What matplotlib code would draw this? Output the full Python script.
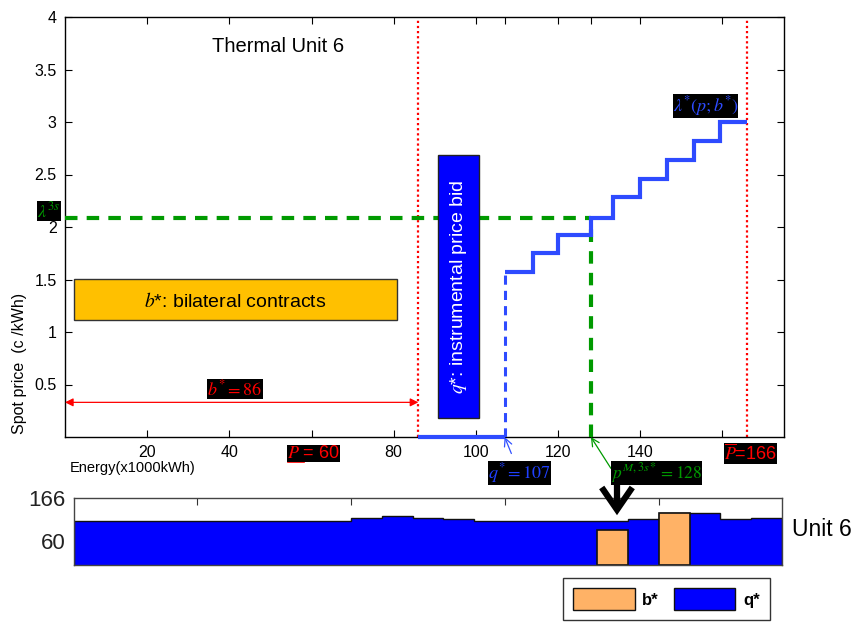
import matplotlib
matplotlib.use('Agg')
import matplotlib.pyplot as plt
from matplotlib.patches import Rectangle, Patch, FancyArrowPatch

plt.rcParams['font.family'] = ['Liberation Sans', 'DejaVu Sans']
plt.rcParams['mathtext.fontset'] = 'stix'

# ---- Offer curve of thermal unit 6 ----
p_min = 60
p_max = 166
b_star = 86
q_star = 107
p_market = 128
lambda_3s = 2.09
bid_edges = [107, 114, 120, 128, 133.5, 140, 146.5, 153, 159.5, 166]
bid_prices = [1.57, 1.75, 1.92, 2.09, 2.29, 2.46, 2.64, 2.82, 3.0]

x_ticks = [20, 40, 60, 80, 100, 107, 120, 128, 140, 160]
x_tick_labels = ['20', '40', '', '80', '100', '', '120', '', '140', '']
y_ticks = [0.5, 1, 1.5, 2, 2.5, 3, 3.5, 4]
y_tick_labels = ['0.5', '1', '1.5', '2', '2.5', '3', '3.5', '4']

# ---- Hourly schedule (x1000 kWh) ----
hour_edges = [1, 2, 3, 4, 5, 6, 7, 8, 9, 10, 11, 12, 13, 14, 15, 16, 17, 18,
              19, 20, 21, 22, 23, 24]
q_profile = [110, 110, 110, 110, 110, 110, 110, 110, 110, 116, 122, 116, 113,
             110, 110, 110, 110, 110, 114, 128, 128, 115, 116]
b_hours = [18, 20]
b_values = [86, 128]

W, H = 860, 623
fig = plt.figure(figsize=(W / 100, H / 100), dpi=100)

ax = fig.add_axes([65 / W, 1 - 437 / H, 719 / W, 420 / H])
ax.set_xlim(0, 175)
ax.set_ylim(0, 4)
ax.set_xticks(x_ticks)
ax.set_xticklabels(x_tick_labels)
ax.set_yticks(y_ticks)
ax.set_yticklabels(y_tick_labels)
ax.tick_params(direction='in', length=5, top=True, right=True,
               labelsize=11.5, pad=6)
for s in ax.spines.values():
    s.set_linewidth(1.0)

fig.text(20 / W, 1 - 363 / H, 'Spot price  (c /kWh)', fontsize=11.5,
         rotation=90, ha='center', va='center')
fig.text(70 / W, 1 - 468 / H, 'Energy(x1000kWh)', fontsize=10.5,
         ha='left', va='center')

blue_line = '#2e4bff'
green = '#009a00'
red = '#ff0000'

# bid curve
ax.plot([b_star, q_star], [0, 0], color=blue_line, lw=3, solid_capstyle='butt',
        clip_on=False, zorder=4)
ax.plot([q_star, q_star], [0, bid_prices[0]], color=blue_line, lw=2.2,
        ls=(0, (3, 2)), zorder=4)
ax.stairs(bid_prices, bid_edges, baseline=None, color=blue_line, lw=3,
          zorder=4)

# market clearing price lines
ax.plot([0, p_market], [lambda_3s, lambda_3s], color=green, lw=3,
        ls=(0, (3, 2.2)), zorder=3)
ax.plot([p_market, p_market], [0, lambda_3s], color=green, lw=3,
        ls=(0, (3, 2.2)), zorder=3)

# capacity bounds
for xv in (b_star, p_max):
    ax.plot([xv, xv], [0, 4], color=red, lw=1.6, ls=(0, (1, 1.3)), zorder=2)

# bilateral contract arrow
ax.annotate('', xy=(0, 0.33), xytext=(b_star, 0.33),
            arrowprops=dict(arrowstyle='<|-|>', color=red, lw=0.9,
                            mutation_scale=12, shrinkA=0, shrinkB=0))
ax.text(41.4, 0.455, r'$b^{*}=86$', color=red, fontsize=13,
        ha='center', va='center',
        bbox=dict(facecolor='black', edgecolor='none', pad=0))

# annotation boxes
ax.add_patch(Rectangle((2.2, 1.113), 78.7, 0.389, facecolor='#ffc000',
                       edgecolor='#333333', lw=1, zorder=3))
ax.text(41.4, 1.29, r'$b$*: bilateral contracts', fontsize=14,
        ha='center', va='center', zorder=4)
ax.add_patch(Rectangle((90.9, 0.178), 9.9, 2.509, facecolor='#0000ff',
                       edgecolor='#222222', lw=1, zorder=3))
ax.text(95.85, 1.43, r'$q$*: instrumental price bid', fontsize=14,
        color='white', rotation=90, ha='center', va='center', zorder=4)

ax.text(35.8, 3.717, 'Thermal Unit 6', fontsize=14.5, ha='left', va='center')

box = dict(facecolor='black', edgecolor='none', pad=0)
ax.text(-3.9, 2.15, r'$\lambda^{3s}$', color=green, fontsize=13,
        ha='center', va='center', bbox=box, clip_on=False)
ax.text(155.9, 3.15, r'$\lambda^{*}(p;b^{*})$', color=blue_line, fontsize=13,
        ha='center', va='center', bbox=box)

ax.text(60.4, -0.155, r'$P$ = 60', color=red, fontsize=13,
        ha='center', va='center', bbox=box, clip_on=False)
ax.plot([54.2, 58.2], [-0.24, -0.24], color=red, lw=1.2, clip_on=False)
ax.text(166.8, -0.155, r'$\overline{P}$=166', color=red, fontsize=13,
        ha='center', va='center', bbox=box, clip_on=False)

ax.annotate(r'$q^{*}=107$', xy=(q_star, 0), xytext=(110.6, -0.345),
            color='#2040ff', fontsize=13, ha='center', va='center',
            bbox=box, annotation_clip=False,
            arrowprops=dict(arrowstyle='->', color='#3050ff', lw=0.9,
                            shrinkA=6, shrinkB=0, mutation_scale=14))
ax.annotate(r'$p^{M,3s*}=128$', xy=(p_market, 0), xytext=(144, -0.345),
            color=green, fontsize=12.5, ha='center', va='center',
            bbox=box, annotation_clip=False,
            arrowprops=dict(arrowstyle='->', color=green, lw=0.9,
                            relpos=(0.0, 0.7), shrinkA=0, shrinkB=0,
                            mutation_scale=14))

# ---- hourly strip ----
ax2 = fig.add_axes([74 / W, 1 - 565 / H, 708 / W, 67 / H])
ax2.set_xlim(1, 24)
ax2.set_ylim(0, 166)
ax2.stairs(q_profile, hour_edges, baseline=0, fill=True,
           facecolor='#0000ff', edgecolor='#111111', lw=1, zorder=2)
ax2.bar(b_hours, b_values, width=1, align='edge', color='#ffb266',
        edgecolor='#111111', lw=1.2, zorder=3)
ax2.set_xticks([5, 10, 15, 20])
ax2.set_xticklabels([])
ax2.set_yticks([60, 166])
ax2.set_yticklabels(['60', '166'])
ax2.tick_params(axis='x', direction='in', length=5, top=True, bottom=False,
                colors='#333333')
ax2.tick_params(axis='y', direction='in', length=0, labelsize=16, pad=6,
                labelcolor='#222222')
for s in ax2.spines.values():
    s.set_color('#444444')
    s.set_linewidth(1)
    s.set_zorder(5)

fig.text(792 / W, 1 - 530 / H, 'Unit 6', fontsize=16.5, ha='left',
         va='center')

arrow = FancyArrowPatch((617 / W, 1 - 476 / H), (617 / W, 1 - 518 / H),
                        transform=fig.transFigure,
                        arrowstyle='->,head_length=0.8,head_width=0.55',
                        mutation_scale=20, lw=4.5, color='black',
                        capstyle='butt', joinstyle='miter')
fig.add_artist(arrow)

handles = [Patch(facecolor='#ffb266', edgecolor='#111111', lw=1),
           Patch(facecolor='#0000ff', edgecolor='#111111', lw=1)]
leg = fig.legend(handles, ['b*', 'q*'], loc='upper left',
                 bbox_to_anchor=(563 / W, 1 - 578 / H),
                 bbox_transform=fig.transFigure, ncol=2,
                 prop={'weight': 'bold', 'size': 12},
                 handlelength=3.7, handleheight=1.68, handletextpad=0.45,
                 columnspacing=0.9, borderpad=0.6, borderaxespad=0,
                 fancybox=False, framealpha=1, edgecolor='#333333')
leg.get_frame().set_linewidth(1)

fig.savefig('out.png', dpi=100)
